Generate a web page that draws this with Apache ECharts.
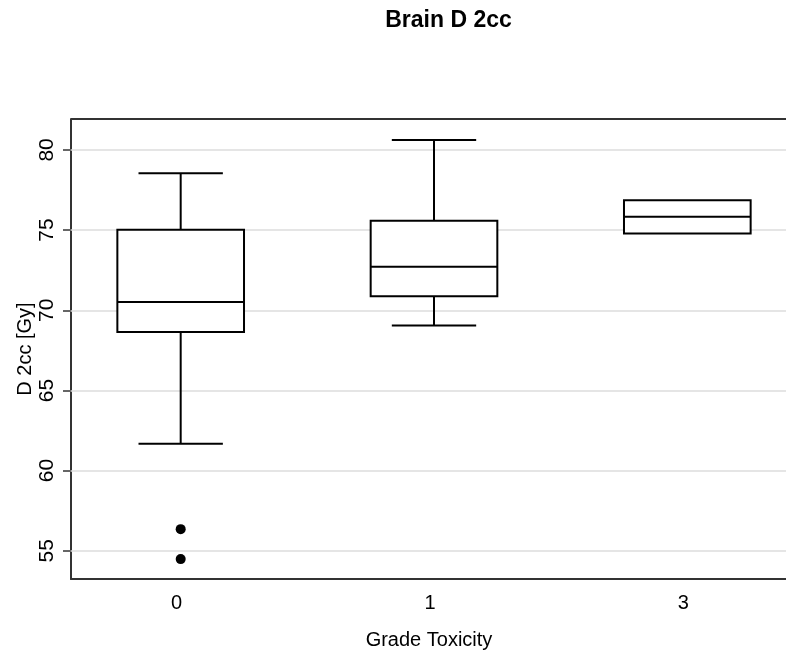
<!DOCTYPE html>
<html>
<head>
<meta charset="utf-8">
<script src="https://cdn.jsdelivr.net/npm/echarts@6/dist/echarts.min.js"></script>
<style>html,body{margin:0;padding:0;background:#fff}#c{width:786px;height:653px}</style>
</head>
<body>
<div id="c"></div>
<script>
// Data
const categories = ['0', '1', '3'];
const whiskerLow = [61.67, 69.05, 74.79];
const q1 = [68.65, 70.87, 74.79];
const median = [70.52, 72.71, 75.83];
const q3 = [75.02, 75.58, 76.87];
const whiskerHigh = [78.54, 80.62, 76.87];
const outlierCat = [0, 0];
const outlierVal = [56.35, 54.48];
const yTicks = [55, 60, 65, 70, 75, 80];

const boxData = categories.map((c, i) => [i, whiskerLow[i], q1[i], median[i], q3[i], whiskerHigh[i]]);
const outliers = outlierVal.map((v, i) => [outlierCat[i], v]);

const FONT = 'Liberation Sans, Arial, sans-serif';
const BOXW = 0.5, CAPW = 0.333;
const lineStyle = { stroke: '#000', lineWidth: 2, fill: null };

function renderBox(params, api) {
  const x = api.value(0);
  const lo = api.value(1), b1 = api.value(2), md = api.value(3), b3 = api.value(4), hi = api.value(5);
  const L = api.coord([x - BOXW / 2, md])[0];
  const R = api.coord([x + BOXW / 2, md])[0];
  const cx = api.coord([x, md])[0];
  const cL = api.coord([x - CAPW / 2, md])[0];
  const cR = api.coord([x + CAPW / 2, md])[0];
  const yLo = api.coord([x, lo])[1], y1 = api.coord([x, b1])[1], ym = api.coord([x, md])[1];
  const y3 = api.coord([x, b3])[1], yHi = api.coord([x, hi])[1];
  const children = [];
  if (hi > b3) {
    children.push({ type: 'line', shape: { x1: cx, y1: y3, x2: cx, y2: yHi }, style: lineStyle });
    children.push({ type: 'line', shape: { x1: cL, y1: yHi, x2: cR, y2: yHi }, style: lineStyle });
  }
  if (lo < b1) {
    children.push({ type: 'line', shape: { x1: cx, y1: y1, x2: cx, y2: yLo }, style: lineStyle });
    children.push({ type: 'line', shape: { x1: cL, y1: yLo, x2: cR, y2: yLo }, style: lineStyle });
  }
  children.push({ type: 'rect', shape: { x: L, y: y3, width: R - L, height: y1 - y3 }, style: { stroke: '#000', lineWidth: 2, fill: '#fff' } });
  children.push({ type: 'line', shape: { x1: L, y1: ym, x2: R, y2: ym }, style: lineStyle });
  return { type: 'group', children };
}

const chart = echarts.init(document.getElementById('c'), null, { renderer: 'canvas' });
chart.setOption({
  animation: false,
  backgroundColor: '#fff',
  title: {
    text: 'Brain D 2cc',
    left: 443.5, top: 4, textAlign: 'center',
    textStyle: { fontFamily: FONT, fontWeight: 'bold', fontSize: 23, color: '#000' }
  },
  grid: { left: 71, top: 119, width: 726, height: 460, show: false, containLabel: false, outerBoundsMode: 'none' },
  xAxis: {
    type: 'value', min: -0.433, max: 2.433,
    splitLine: { show: false },
    axisLine: { show: true, onZero: false, lineStyle: { color: '#333', width: 2 } },
    axisTick: { show: false },
    axisLabel: {
      customValues: [0, 1, 2],
      formatter: v => categories[Math.round(v)],
      fontFamily: FONT, fontSize: 20, color: '#000', margin: 14,
      padding: [0, 8, 0, 0]
    },
    name: 'Grade Toxicity', nameLocation: 'middle', nameGap: 51, nameMoveOverlap: false,
    nameTextStyle: { fontFamily: FONT, fontSize: 20, color: '#000', padding: [0, 10, 0, 0] }
  },
  yAxis: [{
    type: 'value', min: 53.24, max: 81.93,
    splitLine: { show: false },
    axisLine: { show: true, onZero: false, lineStyle: { color: '#333', width: 2 } },
    axisTick: { show: true, customValues: yTicks, length: 8, lineStyle: { color: '#666', width: 2 } },
    axisLabel: {
      customValues: yTicks, rotate: 90,
      fontFamily: FONT, fontSize: 21, color: '#000', margin: 13
    },
    name: 'D 2cc [Gy]', nameLocation: 'middle', nameGap: 36, nameMoveOverlap: false,
    nameTextStyle: { fontFamily: FONT, fontSize: 20, color: '#000' }
  }],
  series: [
    {
      type: 'line', data: [], silent: true,
      markLine: {
        silent: true, symbol: 'none', label: { show: false },
        lineStyle: { color: '#dcdcdc', width: 1.5, type: 'solid' },
        data: yTicks.map(v => ({ yAxis: v }))
      }
    },
    {
      type: 'line', data: [], silent: true,
      markLine: {
        silent: true, symbol: 'none', label: { show: false },
        lineStyle: { color: '#333', width: 2, type: 'solid' },
        data: [{ yAxis: 81.93 }]
      }
    },
    {
      type: 'custom', renderItem: renderBox, data: boxData,
      encode: { x: 0, y: [1, 2, 3, 4, 5] }, z: 5
    },
    {
      type: 'scatter', data: outliers, symbol: 'circle', symbolSize: 10,
      itemStyle: { color: '#000', opacity: 1 }, z: 6
    }
  ]
});
</script>
</body>
</html>
